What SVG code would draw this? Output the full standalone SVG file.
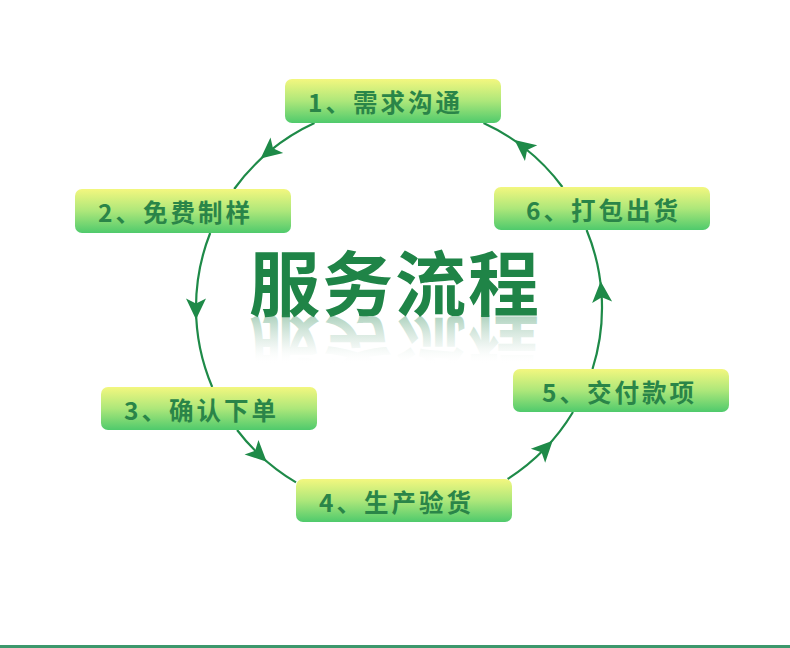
<svg xmlns="http://www.w3.org/2000/svg" width="790" height="648" viewBox="0 0 790 648">
<defs>
<linearGradient id="boxGrad" x1="0" y1="0" x2="0" y2="1">
<stop offset="0" stop-color="#f3f77f"/>
<stop offset="0.5" stop-color="#ade77a"/>
<stop offset="1" stop-color="#4fca6c"/>
</linearGradient>
<linearGradient id="reflGrad" gradientUnits="userSpaceOnUse" x1="0" y1="316" x2="0" y2="268">
<stop offset="0" stop-color="#2b8a55" stop-opacity="0.38"/>
<stop offset="0.6" stop-color="#6aa887" stop-opacity="0.12"/>
<stop offset="1" stop-color="#ffffff" stop-opacity="0"/>
</linearGradient>
<marker id="arrow" markerUnits="userSpaceOnUse" markerWidth="30" markerHeight="30" refX="0" refY="0" orient="auto" overflow="visible">
<path d="M12,0 L-9,-10 L-4,0 L-9,10 Z" fill="#1e8a48"/>
</marker>
</defs>
<style>
.box{fill:url(#boxGrad);}
.lbl{font-family:"Noto Sans CJK SC","Noto Sans",sans-serif;font-size:24.5px;font-weight:bold;fill:#2a8548;letter-spacing:3px;}
.conn{fill:none;stroke:#1e8a48;stroke-width:2.2;marker-mid:url(#arrow);}
.title{font-family:"Noto Sans CJK SC",sans-serif;font-size:71px;font-weight:bold;letter-spacing:2px;}
</style>
<rect width="790" height="648" fill="#ffffff"/>

<g id="connectors">
<path class="conn" d="M314.5,123 A203,203 0 0 0 269.9,150.9 A203,203 0 0 0 234.2,189"/>
<path class="conn" d="M210.2,233 A203,203 0 0 0 196,307.5 A203,203 0 0 0 212.2,387"/>
<path class="conn" d="M237.1,430 A203,203 0 0 0 258,453.5 A203,203 0 0 0 296,482.4"/>
<path class="conn" d="M507.6,479 A203,203 0 0 0 544.3,449.3 A203,203 0 0 0 573,412"/>
<path class="conn" d="M592.5,369 A203,203 0 0 0 601.5,293.3 A203,203 0 0 0 586.6,230"/>
<path class="conn" d="M562.4,187 A203,203 0 0 0 524,147.5 A203,203 0 0 0 483.5,123"/>
</g>

<g id="title">
<text class="title" x="249" y="310" fill="#1f8447">服务流程</text>
<text class="title" x="249" y="310" fill="url(#reflGrad)" transform="translate(0,632) scale(1,-1)">服务流程</text>
</g>

<g id="node1">
<rect class="box" x="285" y="79" width="216" height="44" rx="7"/>
<text class="lbl" x="308" y="112">1、需求沟通</text>
</g>
<g id="node2">
<rect class="box" x="75" y="189" width="216" height="44" rx="7"/>
<text class="lbl" x="98" y="222">2、免费制样</text>
</g>
<g id="node3">
<rect class="box" x="101" y="387" width="216" height="43" rx="7"/>
<text class="lbl" x="124" y="420">3、确认下单</text>
</g>
<g id="node4">
<rect class="box" x="296" y="479" width="216" height="43" rx="7"/>
<text class="lbl" x="319" y="512">4、生产验货</text>
</g>
<g id="node5">
<rect class="box" x="513" y="369" width="216" height="43" rx="7"/>
<text class="lbl" x="542" y="402">5、交付款项</text>
</g>
<g id="node6">
<rect class="box" x="494" y="187" width="216" height="43" rx="7"/>
<text class="lbl" x="526" y="220">6、打包出货</text>
</g>

<rect id="bottom-bar" x="0" y="645" width="790" height="3" fill="#3c986c"/>
</svg>
